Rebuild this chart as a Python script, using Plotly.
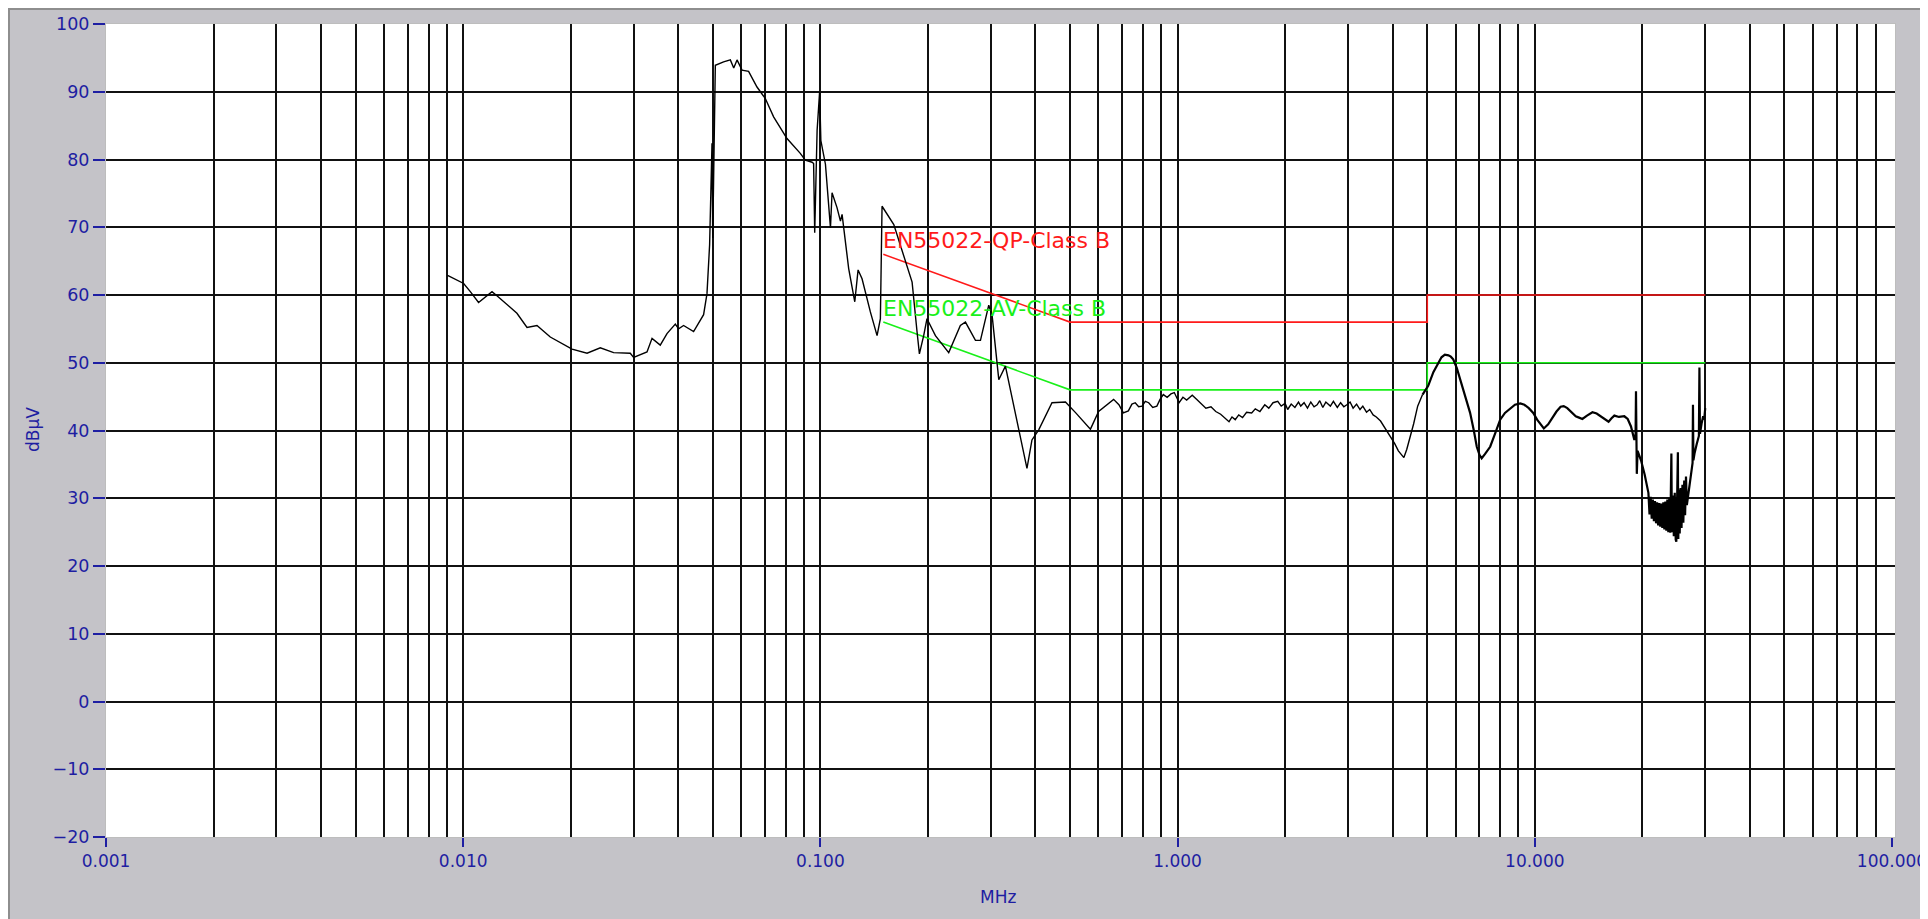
import math
import plotly.graph_objects as go

# ---------------- data ----------------
# measured conducted emission trace (MHz, dBuV)
freq_low = [0.00904, 0.01003, 0.01047, 0.01104, 0.01204, 0.01243, 0.01414, 0.01509,
            0.01609, 0.01753, 0.02017, 0.02222, 0.02420, 0.02637, 0.02936, 0.03000,
            0.03270, 0.03378, 0.03562, 0.03720, 0.03925, 0.04009, 0.04140, 0.04416,
            0.04710, 0.04814, 0.04896, 0.04972, 0.04995, 0.05080, 0.05358, 0.05596,
            0.05720, 0.05843, 0.06034, 0.06295, 0.06645, 0.07012, 0.07396, 0.08064,
            0.08785, 0.09073, 0.09480, 0.09572, 0.09640, 0.09700, 0.09790, 0.09950,
            0.10030]
level_low = [62.9, 61.7, 60.5, 58.9, 60.5, 59.9, 57.3, 55.2,
             55.5, 53.8, 52.0, 51.4, 52.2, 51.5, 51.4, 50.8,
             51.6, 53.6, 52.6, 54.3, 55.7, 55.0, 55.5, 54.6,
             57.1, 60.2, 67.4, 82.4, 68.4, 93.9, 94.4, 94.7,
             93.5, 94.7, 93.2, 93.0, 90.7, 89.0, 86.3, 83.1,
             80.9, 79.9, 79.6, 79.4, 69.2, 74.0, 84.3, 90.0,
             82.8]

freq_mid = [0.1033, 0.1055, 0.1067, 0.1078, 0.1113, 0.1138, 0.1150, 0.1200,
            0.1248, 0.1275, 0.1308, 0.1380, 0.1441, 0.1472, 0.1488, 0.1605,
            0.1711, 0.1806, 0.1865, 0.1893, 0.1946, 0.1988, 0.2099, 0.2287,
            0.2465, 0.2547, 0.2717, 0.2806, 0.2960, 0.3025, 0.3158, 0.3296,
            0.3594, 0.3787, 0.3911, 0.4085, 0.4450, 0.4854, 0.5187, 0.5701,
            0.6010, 0.6620]
level_mid = [79.3, 73.9, 69.9, 75.1, 72.9, 70.9, 71.9, 63.9,
             59.0, 63.7, 62.4, 57.5, 54.0, 56.5, 73.1, 70.4,
             65.9, 61.9, 54.5, 51.3, 54.0, 56.5, 54.0, 51.5,
             55.5, 56.0, 53.3, 53.3, 58.5, 57.0, 47.5, 49.5,
             40.1, 34.4, 38.6, 40.1, 44.1, 44.2, 42.6, 40.2,
             42.8, 44.6]

freq_band = [0.685, 0.705, 0.728, 0.745, 0.761, 0.778, 0.795, 0.812, 0.830, 0.852,
             0.875, 0.893, 0.912, 0.935, 0.958, 0.979, 1.010, 1.035, 1.060, 1.099,
             1.130, 1.160, 1.200, 1.240, 1.279, 1.320, 1.355, 1.393, 1.420, 1.450,
             1.483, 1.520, 1.560, 1.612, 1.650, 1.700, 1.754, 1.800, 1.850, 1.907,
             1.950, 2.000, 2.033, 2.080, 2.130, 2.180, 2.212, 2.260, 2.310, 2.360,
             2.410, 2.458, 2.500, 2.550, 2.600, 2.677, 2.730, 2.800, 2.860, 2.920,
             2.977, 3.040, 3.100, 3.170, 3.241, 3.300, 3.380, 3.450, 3.527, 3.600,
             3.700, 3.838, 3.950, 4.050, 4.150, 4.225, 4.300, 4.380, 4.456, 4.580,
             4.700, 4.850]
level_band = [43.8, 42.6, 42.9, 43.9, 44.1, 43.5, 43.6, 44.3, 44.1, 43.4,
              43.6, 44.6, 45.3, 44.9, 45.4, 45.6, 44.1, 44.9, 44.5, 45.2,
              44.6, 44.0, 43.3, 43.5, 42.8, 42.4, 41.8, 41.3, 42.0, 41.6,
              42.3, 41.9, 42.7, 42.6, 43.2, 42.8, 43.8, 43.3, 44.1, 44.3,
              43.6, 44.0, 43.1, 43.9, 43.4, 44.2, 43.6, 44.1, 43.3, 44.2,
              43.5, 43.8, 44.4, 43.4, 44.2, 43.6, 44.3, 43.4, 44.1, 43.5,
              43.8, 44.2, 43.3, 43.9, 43.1, 43.6, 42.7, 43.1, 42.3, 42.0,
              41.4, 40.1, 39.0, 38.1, 37.0, 36.4, 36.0, 37.2, 38.6, 41.0,
              43.6, 45.3]

freq_high = [5.03, 5.20, 5.35, 5.48, 5.60, 5.73, 5.82, 5.91, 6.05, 6.17,
             6.38, 6.59, 6.75, 6.88, 7.00, 7.10, 7.25, 7.50, 7.75, 8.00,
             8.25, 8.54, 8.80, 9.11, 9.35, 9.62, 9.90, 10.15, 10.40, 10.60,
             10.90, 11.19, 11.50, 11.81, 12.05, 12.33, 12.70, 13.02, 13.30, 13.59,
             14.00, 14.50, 14.90, 15.31, 15.70, 16.09, 16.40, 16.70, 17.20, 17.81,
             18.20, 18.59, 19.00, 19.15, 19.20, 19.25, 19.30, 19.40, 19.83, 20.30,
             20.72]
level_high = [46.6, 48.6, 49.9, 50.8, 51.2, 51.1, 50.9, 50.5, 49.2, 47.6,
              45.0, 42.6, 40.0, 37.6, 36.4, 35.9, 36.5, 37.6, 39.6, 41.6,
              42.6, 43.3, 43.8, 44.0, 43.8, 43.3, 42.6, 41.6, 40.8, 40.3,
              40.9, 41.8, 42.8, 43.5, 43.6, 43.3, 42.6, 42.1, 41.9, 41.7,
              42.2, 42.7, 42.5, 42.1, 41.7, 41.3, 41.8, 42.2, 42.0, 42.1,
              41.7, 40.6, 38.6, 39.5, 45.8, 38.0, 33.6, 37.0, 35.6, 33.5,
              31.6]

freq_top = [20.80, 20.95, 21.10, 21.25, 21.40, 21.55, 21.70, 21.85, 22.00, 22.15,
            22.30, 22.45, 22.60, 22.75, 22.90, 23.05, 23.20, 23.35, 23.50, 23.65,
            23.80, 23.95, 24.05, 24.12, 24.20, 24.35, 24.50, 24.65, 24.80, 24.90,
            25.05, 25.15, 25.22, 25.30, 25.45, 25.60, 25.75, 25.90, 26.05, 26.20,
            26.35, 26.50, 26.65, 26.88, 27.10, 27.30, 27.50, 27.65, 27.72, 27.80,
            28.00, 28.20, 28.40, 28.60, 28.80, 28.90, 29.00, 29.30, 29.60, 29.80,
            30.00]
level_top = [30.8, 27.6, 30.2, 27.0, 29.8, 26.6, 29.6, 26.3, 29.4, 26.0,
             29.3, 25.8, 29.2, 25.6, 29.4, 25.4, 29.5, 25.2, 29.8, 25.0,
             30.0, 24.9, 30.2, 36.6, 25.0, 30.4, 24.4, 30.8, 23.9, 23.6,
             31.0, 36.8, 24.0, 31.3, 24.8, 31.5, 25.6, 32.0, 26.4, 32.6,
             27.5, 33.2, 29.0, 30.6, 32.0, 33.0, 34.5, 35.2, 43.8, 35.6,
             36.6, 37.5, 38.0, 38.6, 39.2, 49.3, 39.5, 41.0, 42.1, 41.6,
             43.3]

# EN55022 class B limits
limit_freq = [0.15, 0.5, 5.0, 5.0, 30.0]
qp_limit = [66, 56, 56, 60, 60]
av_limit = [56, 46, 46, 50, 50]
qp_label = "EN55022-QP-Class B"
av_label = "EN55022-AV-Class B"
label_freq = 0.15
qp_label_level = 68
av_label_level = 58

x_tick_vals = [0.001, 0.01, 0.1, 1, 10, 100]
x_tick_text = ["0.001", "0.010", "0.100", "1.000", "10.000", "100.000"]
y_tick_vals = list(range(-20, 101, 10))

# ---------------- figure ----------------
freq_a = freq_low + freq_mid + freq_band
level_a = level_low + level_mid + level_band
freq_b = freq_band[-1:] + freq_high + freq_top
level_b = level_band[-1:] + level_high + level_top

BLUE = "#1e1ea2"
PANEL = "#c4c3c8"
FONT = "DejaVu Sans"

OFF = 8  # page body margin
W, H = 1920, 911
ML, MT = 98, 16
PW, PH = 1789, 813
MR, MB = W - ML - PW, H - MT - PH


def px(xp):
    return (xp - OFF - ML) / PW


def py(yp):
    return 1 - (yp - OFF - MT) / PH


fig = go.Figure()
fig.add_trace(go.Scatter(x=limit_freq, y=qp_limit, mode="lines",
                         line=dict(color="#ff1a1a", width=1.6), hoverinfo="skip"))
fig.add_trace(go.Scatter(x=limit_freq, y=av_limit, mode="lines",
                         line=dict(color="#19f019", width=1.6), hoverinfo="skip"))
fig.add_trace(go.Scatter(x=freq_a, y=level_a, mode="lines",
                         line=dict(color="#000000", width=1.4)))
fig.add_trace(go.Scatter(x=freq_b, y=level_b, mode="lines",
                         line=dict(color="#000000", width=2.2)))

minor_x = []
for d in [0.001, 0.01, 0.1, 1, 10]:
    for k in range(1, 10):
        v = round(d * k, 6)
        if v > 0.001:
            minor_x.append(v)

fig.update_xaxes(
    type="log", range=[-3, 2.0084],
    tickmode="array", tickvals=x_tick_vals, ticktext=x_tick_text,
    ticks="outside", ticklen=9, tickwidth=1.5, tickcolor=BLUE,
    tickfont=dict(family=FONT, size=17, color=BLUE),
    ticklabeloverflow="allow",
    showgrid=False, zeroline=False,
    showline=True, linecolor="#bdbdbd", linewidth=1, mirror=True,
    minor=dict(tickmode="array", tickvals=minor_x, showgrid=True,
               gridcolor="#111111", gridwidth=1.6, ticks=""),
)
fig.update_yaxes(
    range=[-20, 100],
    tickmode="array", tickvals=y_tick_vals,
    ticks="outside", ticklen=12, tickwidth=1.5, tickcolor=BLUE,
    tickfont=dict(family=FONT, size=17.5, color=BLUE),
    showgrid=False, zeroline=False,
    showline=True, linecolor="#bdbdbd", linewidth=1, mirror=True,
    minor=dict(tickmode="array", tickvals=list(range(-10, 100, 10)), showgrid=True,
               gridcolor="#111111", gridwidth=1.6, ticks=""),
)

shapes = [
    dict(type="line", xref="paper", yref="paper", x0=px(9), x1=px(9), y0=py(H + 20), y1=py(8),
         line=dict(color="#8e8e8e", width=2), layer="above"),
    dict(type="line", xref="paper", yref="paper", x0=px(8), x1=px(W + 20), y0=py(9), y1=py(9),
         line=dict(color="#8e8e8e", width=2), layer="above"),
]

annotations = [
    dict(x=math.log10(label_freq), y=qp_label_level, xref="x", yref="y", text=qp_label,
         showarrow=False, xanchor="left", yanchor="middle", xshift=-2,
         font=dict(family=FONT, size=22, color="#ff1a1a")),
    dict(x=math.log10(label_freq), y=av_label_level, xref="x", yref="y", text=av_label,
         showarrow=False, xanchor="left", yanchor="middle", xshift=-2,
         font=dict(family=FONT, size=22, color="#19f019")),
    dict(x=px(998), y=py(897), xref="paper", yref="paper", text="MHz", showarrow=False,
         xanchor="center", yanchor="middle", font=dict(family=FONT, size=17, color=BLUE)),
    dict(x=px(33), y=py(430), xref="paper", yref="paper", text="dBµV", showarrow=False,
         textangle=-90, xanchor="center", yanchor="middle",
         font=dict(family=FONT, size=17, color=BLUE)),
]

fig.update_layout(
    width=W, height=H,
    margin=dict(l=ML, r=MR, t=MT, b=MB, autoexpand=False),
    paper_bgcolor=PANEL, plot_bgcolor="white",
    showlegend=False,
    shapes=shapes, annotations=annotations,
    font=dict(family=FONT, color=BLUE),
)

fig.write_html("out.html")
